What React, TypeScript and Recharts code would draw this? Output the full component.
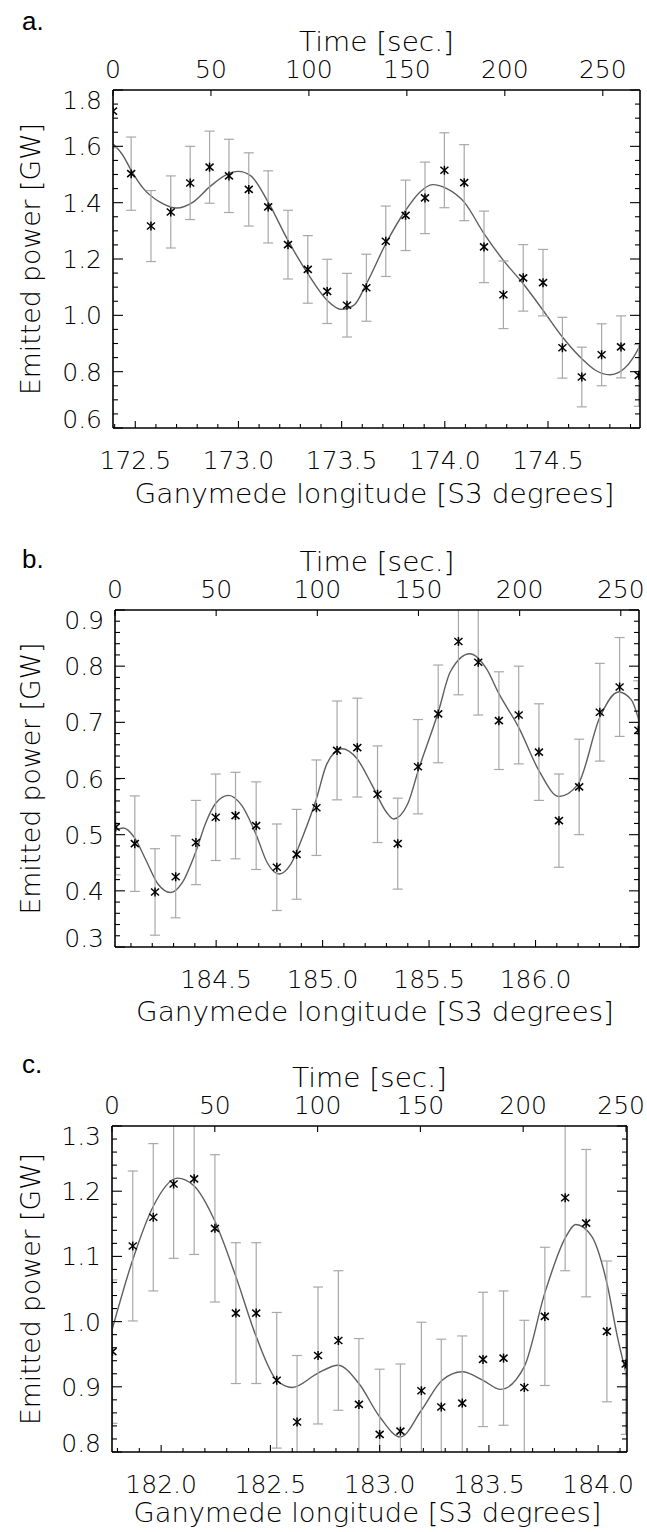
import React from "react";
import { ComposedChart, Line, Scatter, XAxis, YAxis, ErrorBar } from "recharts";

// ---- panel a ----
const lonA = [172.392, 172.48, 172.576, 172.672, 172.766, 172.86, 172.954, 173.05, 173.144, 173.24, 173.336, 173.43, 173.526, 173.62, 173.714, 173.81, 173.904, 173.998, 174.094, 174.19, 174.284, 174.38, 174.476, 174.57, 174.664, 174.76, 174.854, 174.94];
const powA = [1.725, 1.503, 1.317, 1.367, 1.47, 1.526, 1.495, 1.447, 1.385, 1.251, 1.163, 1.085, 1.036, 1.098, 1.263, 1.355, 1.417, 1.515, 1.471, 1.243, 1.073, 1.133, 1.116, 0.885, 0.781, 0.86, 0.888, 0.787];
const errA = [0.13, 0.13, 0.126, 0.128, 0.13, 0.128, 0.13, 0.13, 0.128, 0.122, 0.12, 0.114, 0.113, 0.119, 0.125, 0.125, 0.127, 0.133, 0.135, 0.127, 0.12, 0.118, 0.118, 0.108, 0.106, 0.11, 0.11, 0.11];
const fitLonA = [172.392, 172.44, 172.48, 172.54, 172.62, 172.7, 172.78, 172.86, 172.94, 173.0, 173.06, 173.144, 173.24, 173.336, 173.43, 173.5, 173.56, 173.62, 173.714, 173.81, 173.88, 173.94, 174.01, 174.094, 174.19, 174.284, 174.38, 174.476, 174.57, 174.664, 174.73, 174.8, 174.87, 174.91, 174.946];
const fitPowA = [1.609, 1.568, 1.515, 1.45, 1.402, 1.381, 1.402, 1.456, 1.499, 1.511, 1.495, 1.402, 1.266, 1.148, 1.053, 1.021, 1.036, 1.112, 1.254, 1.373, 1.438, 1.464, 1.45, 1.402, 1.29, 1.195, 1.112, 1.018, 0.923, 0.846, 0.805, 0.789, 0.811, 0.846, 0.893];

// ---- panel b ----
const lonB = [184.028, 184.118, 184.213, 184.31, 184.405, 184.498, 184.591, 184.688, 184.785, 184.878, 184.971, 185.068, 185.163, 185.258, 185.353, 185.448, 185.543, 185.638, 185.731, 185.828, 185.921, 186.016, 186.11, 186.205, 186.302, 186.395, 186.483];
const powB = [0.5135, 0.484, 0.398, 0.425, 0.486, 0.531, 0.534, 0.516, 0.442, 0.465, 0.548, 0.65, 0.655, 0.572, 0.484, 0.621, 0.715, 0.844, 0.807, 0.703, 0.713, 0.647, 0.525, 0.585, 0.718, 0.763, 0.686];
const errB = [0.085, 0.085, 0.077, 0.073, 0.075, 0.077, 0.077, 0.078, 0.077, 0.08, 0.085, 0.088, 0.088, 0.086, 0.081, 0.084, 0.087, 0.095, 0.094, 0.087, 0.087, 0.086, 0.083, 0.085, 0.087, 0.088, 0.088];
const fitLonB = [184.031, 184.064, 184.118, 184.17, 184.225, 184.287, 184.34, 184.405, 184.45, 184.498, 184.558, 184.62, 184.688, 184.74, 184.797, 184.85, 184.91, 184.971, 185.02, 185.09, 185.16, 185.23, 185.3, 185.333, 185.4, 185.45, 185.543, 185.6, 185.692, 185.77, 185.828, 185.921, 186.016, 186.11, 186.2, 186.302, 186.39, 186.45, 186.486];
const fitPowB = [0.509, 0.512, 0.494, 0.455, 0.413, 0.397, 0.414, 0.47, 0.52, 0.556, 0.57, 0.552, 0.5, 0.45, 0.43, 0.447, 0.5, 0.564, 0.626, 0.653, 0.636, 0.59, 0.54, 0.528, 0.555, 0.615, 0.718, 0.79, 0.822, 0.795, 0.751, 0.691, 0.614, 0.568, 0.59, 0.709, 0.754, 0.74, 0.703];

// ---- panel c ----
const lonC = [181.777, 181.87, 181.964, 182.057, 182.151, 182.246, 182.342, 182.435, 182.529, 182.622, 182.718, 182.811, 182.905, 183.0, 183.095, 183.191, 183.282, 183.378, 183.473, 183.567, 183.662, 183.756, 183.849, 183.945, 184.04, 184.126];
const powC = [0.954, 1.116, 1.16, 1.211, 1.219, 1.143, 1.013, 1.013, 0.91, 0.846, 0.948, 0.971, 0.873, 0.827, 0.832, 0.894, 0.869, 0.875, 0.942, 0.944, 0.899, 1.008, 1.19, 1.151, 0.985, 0.935];
const errC = [0.11, 0.115, 0.113, 0.114, 0.116, 0.113, 0.108, 0.108, 0.104, 0.102, 0.105, 0.107, 0.101, 0.1, 0.103, 0.105, 0.104, 0.103, 0.103, 0.103, 0.103, 0.106, 0.112, 0.113, 0.108, 0.108];
const fitLonC = [181.775, 181.87, 181.964, 182.074, 182.151, 182.246, 182.342, 182.435, 182.529, 182.6, 182.718, 182.809, 182.905, 183.0, 183.095, 183.191, 183.286, 183.378, 183.473, 183.553, 183.662, 183.756, 183.849, 183.897, 183.97, 184.04, 184.088, 184.132];
const fitPowC = [0.987, 1.095, 1.177, 1.22, 1.208, 1.154, 1.069, 0.977, 0.91, 0.899, 0.921, 0.933, 0.905, 0.854, 0.823, 0.864, 0.91, 0.923, 0.91, 0.896, 0.931, 1.044, 1.128, 1.149, 1.131, 1.059, 0.977, 0.915];

// ---- ticks ----
const timeTicks = [0, 50, 100, 150, 200, 250];
const lonMajorA = [172.5, 173.0, 173.5, 174.0, 174.5];
const lonMajorB = [184.5, 185.0, 185.5, 186.0];
const lonMajorC = [182.0, 182.5, 183.0, 183.5, 184.0];
const powMajorA = [0.6, 0.8, 1.0, 1.2, 1.4, 1.6, 1.8];
const powMajorB = [0.3, 0.4, 0.5, 0.6, 0.7, 0.8, 0.9];
const powMajorC = [0.8, 0.9, 1.0, 1.1, 1.2, 1.3];

const W = 647;
const FONT = "'DejaVu Sans', 'Liberation Sans', sans-serif";
const labelStyle: React.CSSProperties = { fontFamily: FONT, fontSize: 25, fontWeight: 200 };

function stepTicks(lo: number, hi: number, step: number) {
  const out: number[] = [];
  const start = Math.ceil(lo / step - 1e-9);
  const end = Math.floor(hi / step + 1e-9);
  for (let k = start; k <= end; k++) out.push(Math.round(k * step * 1e6) / 1e6);
  return out;
}

const near = (list: number[], v: number) => list.some((m) => Math.abs(m - v) < 1e-6);

type Panel = {
  letter: string;
  letterY: number;
  box: { l: number; r: number; t: number; b: number };
  lonDomain: [number, number];
  tMax: number;
  yDomain: [number, number];
  yMajor: number[];
  yMinorStep: number;
  lonMajor: number[];
  pts: { lon: number; p: number; e: number }[];
  fit: { lon: number; p: number }[];
  xTitleW: number;
  xTitleY: number;
};

const panels: Panel[] = [
  {
    letter: "a.",
    letterY: 30,
    box: { l: 113, r: 640, t: 90, b: 428 },
    lonDomain: [172.392, 174.946],
    tMax: 269,
    yDomain: [0.6, 1.8],
    yMajor: powMajorA,
    yMinorStep: 0.05,
    lonMajor: lonMajorA,
    pts: lonA.map((lon, i) => ({ lon, p: powA[i], e: errA[i] })),
    fit: fitLonA.map((lon, i) => ({ lon, p: fitPowA[i] })),
    xTitleW: 480,
    xTitleY: 503,
  },
  {
    letter: "b.",
    letterY: 568,
    box: { l: 115, r: 639, t: 610, b: 947 },
    lonDomain: [184.025, 186.486],
    tMax: 259,
    yDomain: [0.3, 0.9],
    yMajor: powMajorB,
    yMinorStep: 0.02,
    lonMajor: lonMajorB,
    pts: lonB.map((lon, i) => ({ lon, p: powB[i], e: errB[i] })),
    fit: fitLonB.map((lon, i) => ({ lon, p: fitPowB[i] })),
    xTitleW: 478,
    xTitleY: 1021,
  },
  {
    letter: "c.",
    letterY: 1073,
    box: { l: 112, r: 627, t: 1126, b: 1452 },
    lonDomain: [181.775, 184.132],
    tMax: 250.5,
    yDomain: [0.8, 1.3],
    yMajor: powMajorC,
    yMinorStep: 0.02,
    lonMajor: lonMajorC,
    pts: lonC.map((lon, i) => ({ lon, p: powC[i], e: errC[i] })),
    fit: fitLonC.map((lon, i) => ({ lon, p: fitPowC[i] })),
    xTitleW: 468,
    xTitleY: 1522,
  },
];

const TOP_H = 90;
const BOT_H = 80;

function Asterisk(props: any) {
  const { cx, cy } = props;
  if (cx == null || cy == null) return null;
  return (
    <g stroke="#000" strokeWidth={1.5}>
      <line x1={cx} y1={cy - 4.5} x2={cx} y2={cy + 4.5} />
      <line x1={cx - 4} y1={cy - 3.5} x2={cx + 4} y2={cy + 3.5} />
      <line x1={cx - 4} y1={cy + 3.5} x2={cx + 4} y2={cy - 3.5} />
    </g>
  );
}

function PanelChart({ p, idx }: { p: Panel; idx: number }) {
  const height = p.box.b - p.box.t + TOP_H + BOT_H;
  const yTicks = stepTicks(p.yDomain[0], p.yDomain[1], p.yMinorStep);
  const lonTicks = stepTicks(p.lonDomain[0], p.lonDomain[1], 0.1);
  const [ylo, yhi] = p.yDomain;
  // anchor rows so the time axis and the right axis have a series of their own
  const timeRows = timeTicks.map((t) => ({ t }));

  const leftTick = (t: any) => {
    const v = t.payload.value;
    const major = near(p.yMajor, v);
    let dy = 9;
    if (Math.abs(v - yhi) < 1e-6) dy += 10;
    if (Math.abs(v - ylo) < 1e-6) dy -= 9;
    return (
      <g>
        <line x1={t.x} x2={t.x + (major ? 10 : 5)} y1={t.y} y2={t.y} stroke="#000" strokeWidth={1.1} />
        {major && (
          <text x={t.x - 11} y={t.y + dy} textAnchor="end" fill="#000" style={labelStyle}>
            {v.toFixed(1)}
          </text>
        )}
      </g>
    );
  };
  const rightTick = (t: any) => {
    const v = t.payload.value;
    const major = near(p.yMajor, v);
    return <line x1={t.x} x2={t.x - (major ? 10 : 5)} y1={t.y} y2={t.y} stroke="#000" strokeWidth={1.1} />;
  };
  const bottomTick = (t: any) => {
    const v = t.payload.value;
    const major = near(p.lonMajor, v);
    return (
      <g>
        <line x1={t.x} x2={t.x} y1={t.y} y2={t.y - (major ? 7 : 4)} stroke="#000" strokeWidth={1.1} />
        {major && (
          <text x={t.x} y={t.y + 41} textAnchor="middle" fill="#000" style={labelStyle}>
            {v.toFixed(1)}
          </text>
        )}
      </g>
    );
  };
  const topTick = (t: any) => {
    const v = t.payload.value;
    // keep the last label inside the page
    const tooFar = t.x + 24 > W - 2;
    return (
      <g>
        <line x1={t.x} x2={t.x} y1={t.y} y2={t.y + 6} stroke="#000" strokeWidth={1.1} />
        <text
          x={tooFar ? W - 2 : t.x}
          y={t.y - 12}
          textAnchor={tooFar ? "end" : "middle"}
          fill="#000"
          style={labelStyle}
        >
          {String(v)}
        </text>
      </g>
    );
  };

  const axisLine = { stroke: "#000", strokeWidth: 1.6 };

  return (
    <div className={`panel-${idx}`} style={{ position: "absolute", left: 0, top: p.box.t - TOP_H }}>
      <ComposedChart width={W} height={height} margin={{ top: 0, right: 0, bottom: 0, left: 0 }}>
        <XAxis
          xAxisId="lon"
          dataKey="lon"
          type="number"
          orientation="bottom"
          domain={p.lonDomain}
          allowDataOverflow
          ticks={lonTicks}
          interval={0}
          height={BOT_H}
          tickSize={0}
          tickMargin={0}
          tickLine={false}
          axisLine={axisLine}
          tick={bottomTick}
        />
        <XAxis
          xAxisId="t"
          dataKey="t"
          type="number"
          orientation="top"
          domain={[0, p.tMax]}
          allowDataOverflow
          ticks={timeTicks}
          interval={0}
          height={TOP_H}
          tickSize={0}
          tickMargin={0}
          tickLine={false}
          axisLine={axisLine}
          tick={topTick}
        />
        <YAxis
          yAxisId="l"
          type="number"
          domain={p.yDomain}
          allowDataOverflow
          ticks={yTicks}
          interval={0}
          width={p.box.l}
          tickSize={0}
          tickMargin={0}
          tickLine={false}
          axisLine={axisLine}
          tick={leftTick}
        />
        <YAxis
          yAxisId="r"
          type="number"
          orientation="right"
          domain={p.yDomain}
          allowDataOverflow
          ticks={yTicks}
          interval={0}
          width={W - p.box.r}
          tickSize={0}
          tickMargin={0}
          tickLine={false}
          axisLine={axisLine}
          tick={rightTick}
        />
        <Line
          xAxisId="t"
          yAxisId="r"
          data={timeRows}
          dataKey="none"
          stroke="none"
          dot={false}
          activeDot={false}
          legendType="none"
          isAnimationActive={false}
        />
        <Line
          xAxisId="lon"
          yAxisId="l"
          data={p.fit}
          dataKey="p"
          type="monotone"
          stroke="#5e5e5e"
          strokeWidth={1.4}
          dot={false}
          activeDot={false}
          isAnimationActive={false}
        />
        <Scatter
          xAxisId="lon"
          yAxisId="l"
          data={p.pts}
          dataKey="p"
          shape={Asterisk}
          isAnimationActive={false}
        >
          <ErrorBar dataKey="e" direction="y" width={5} stroke="#a8a8a8" strokeWidth={1.2} />
        </Scatter>
      </ComposedChart>
    </div>
  );
}

export default function App() {
  const titleStyle: React.CSSProperties = { fontFamily: FONT, fontSize: 26, fontWeight: 200 };
  const letterStyle: React.CSSProperties = { fontFamily: "'Liberation Sans', Arial, sans-serif", fontSize: 26 };
  const css = panels
    .map(
      (_, i) =>
        `.panel-${i} .recharts-errorBars, .panel-${i} .recharts-errorBar, .panel-${i} .recharts-scatter-symbol { clip-path: url(#box-clip-${i}); }`
    )
    .join("\n");
  return (
    <div style={{ position: "absolute", left: 0, top: 0, width: W, height: 1532, background: "#fff" }}>
      <style>{css}</style>
      <svg width={0} height={0} style={{ position: "absolute" }}>
        <defs>
          {panels.map((p, i) => (
            <clipPath key={i} id={`box-clip-${i}`} clipPathUnits="userSpaceOnUse">
              <rect x={p.box.l} y={TOP_H} width={p.box.r - p.box.l} height={p.box.b - p.box.t} />
            </clipPath>
          ))}
        </defs>
      </svg>
      {panels.map((p, i) => (
        <PanelChart key={p.letter} p={p} idx={i} />
      ))}
      <svg width={W} height={1532} style={{ position: "absolute", left: 0, top: 0, pointerEvents: "none" }}>
        {panels.map((p) => {
          const cx = (p.box.l + p.box.r) / 2;
          const cy = (p.box.t + p.box.b) / 2;
          return (
            <g key={p.letter} fill="#000">
              <text x={22} y={p.letterY} style={letterStyle}>
                {p.letter}
              </text>
              <text x={cx} y={p.box.t - 39} textAnchor="middle" textLength={155} lengthAdjust="spacingAndGlyphs" style={titleStyle}>
                Time [sec.]
              </text>
              <text x={cx - 2} y={p.xTitleY} textAnchor="middle" textLength={p.xTitleW} lengthAdjust="spacingAndGlyphs" style={titleStyle}>
                Ganymede longitude [S3 degrees]
              </text>
              <text
                x={40}
                y={cy}
                transform={`rotate(-90 40 ${cy})`}
                textAnchor="middle"
                textLength={272}
                lengthAdjust="spacingAndGlyphs"
                style={titleStyle}
              >
                Emitted power [GW]
              </text>
            </g>
          );
        })}
      </svg>
    </div>
  );
}
